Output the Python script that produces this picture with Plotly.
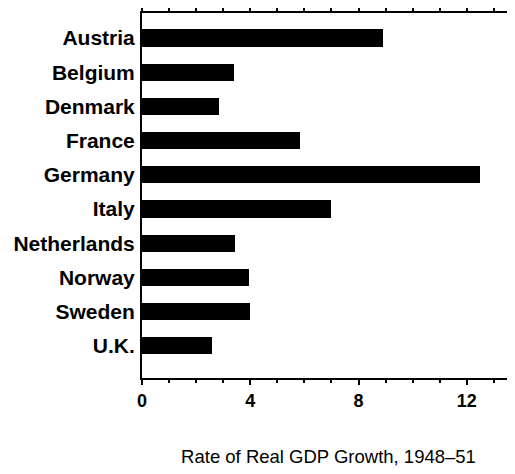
import plotly.graph_objects as go

countries = ["Austria", "Belgium", "Denmark", "France", "Germany", "Italy",
             "Netherlands", "Norway", "Sweden", "U.K."]
growth = [8.9, 3.4, 2.85, 5.85, 12.5, 7.0, 3.45, 3.95, 4.0, 2.6]
x_ticks = [0, 4, 8, 12]
x_title = "Rate of Real GDP Growth, 1948\u201351"

positions = list(range(len(countries)))

fig = go.Figure(go.Bar(
    x=growth, y=positions, orientation="h",
    marker=dict(color="black", line=dict(width=0)),
    width=0.5,
))

# page body has an 8px default margin; figure is sized to fill the rest
fig.update_layout(
    width=507, height=466,
    margin=dict(l=134, r=0, t=5, b=96, autoexpand=False),
    paper_bgcolor="white", plot_bgcolor="white",
    showlegend=False,
    font=dict(family="Liberation Sans, Arial, sans-serif", color="black"),
    bargap=0,
)
fig.update_xaxes(
    range=[0, 13.78], automargin=False,
    tickvals=x_ticks, ticktext=["<b>%d</b>" % v for v in x_ticks],
    ticks="outside", ticklen=5, tickwidth=2, tickcolor="black",
    minor=dict(dtick=1, tick0=0, ticks="outside", ticklen=3, tickwidth=2, tickcolor="black"),
    showline=True, linewidth=2, linecolor="black", mirror="ticks",
    showgrid=False, zeroline=False,
    tickfont=dict(size=18, color="black"),
    title=dict(text=x_title, font=dict(size=18.5, color="black"), standoff=40),
)
fig.update_yaxes(
    range=[9.94, -0.73], automargin=False,
    tickvals=positions, ticktext=["<b>%s</b>" % c for c in countries],
    ticks="", showline=True, linewidth=2, linecolor="black",
    showgrid=False, zeroline=False,
    tickfont=dict(size=21, color="black"),
    ticklabelstandoff=1,
)

fig.write_html("out.html")
